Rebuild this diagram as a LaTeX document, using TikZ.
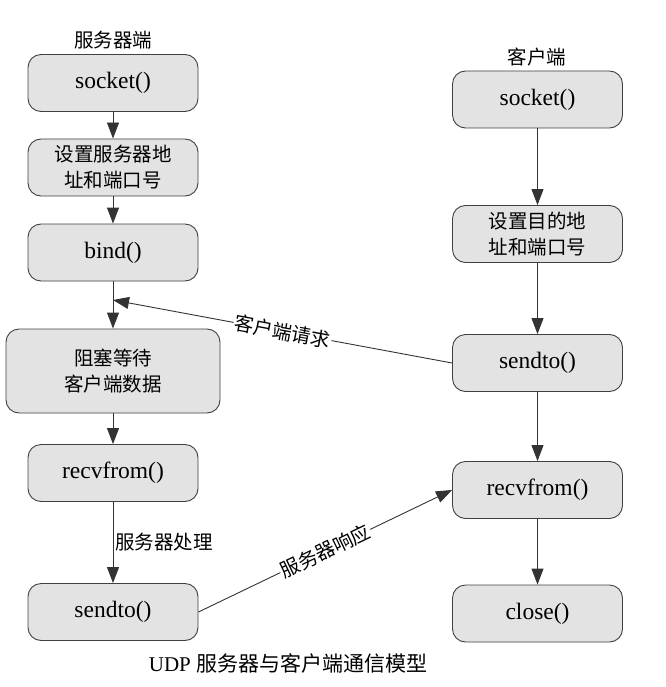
\documentclass[tikz,border=0pt]{standalone}
\usepackage{fontspec}
\setmainfont{Liberation Serif}
\newfontfamily\cjk{Noto Sans CJK SC}
\usetikzlibrary{arrows.meta}

\begin{document}
\begin{tikzpicture}[x=1pt, y=-1pt,
        box/.style={draw=black!75, fill=black!11, line width=0.9pt, rounded corners=13pt,
                    minimum width=170pt, minimum height=57pt, align=center,
                    font=\fontsize{23.5}{27}\selectfont},
        zh/.style={font=\cjk\fontsize{19.5}{26}\selectfont},
        flow/.style={draw=black!80, line width=0.9pt, -{Triangle[length=16pt,width=12pt]}}]
                \useasboundingbox (0,0) rectangle (665,687);

                % server side
                \node[zh] (srvtitle) at (113,40) {服务器端};
                \node[box] (srvsocket) at (113,83) {socket()};
                \node[box, zh] (srvaddr) at (113,167.5) {设置服务器地\\址和端口号};
                \node[box] (bind) at (113,252.5) {bind()};
                \node[box, zh, minimum width=214pt, minimum height=84pt] (wait) at (113,371) {阻塞等待\\客户端数据};
                \node[box] (srvrecv) at (113,473) {recvfrom()};
                \node[box] (srvsend) at (113,612) {sendto()};

                % client side
                \node[zh] (clititle) at (537,57) {客户端};
                \node[box] (clisocket) at (537.5,99.5) {socket()};
                \node[box, zh] (cliaddr) at (537.5,234) {设置目的地\\址和端口号};
                \node[box] (clisend) at (537.5,363) {sendto()};
                \node[box] (clirecv) at (537.5,490) {recvfrom()};
                \node[box] (cliclose) at (537.5,613.5) {close()};

                \node[font=\fontsize{21}{24}\selectfont] (caption) at (288,663) {UDP {\cjk 服务器与客户端通信模型}};

                \draw[flow] (srvsocket) -- (srvaddr);
                \draw[flow] (srvaddr) -- (bind);
                \draw[flow] (bind) -- (wait);
                \draw[flow] (wait) -- (srvrecv);
                \draw[flow] (srvrecv) -- node[zh, right, inner sep=2pt] {服务器处理} (srvsend);

                \draw[flow] (clisocket) -- (cliaddr);
                \draw[flow] (cliaddr) -- (clisend);
                \draw[flow] (clisend) -- (clirecv);
                \draw[flow] (clirecv) -- (cliclose);

                \coordinate (reqend) at (113,300);
                \draw[flow] (clisend.west) -- node[zh, sloped, fill=white, inner sep=1pt] {客户端请求} (reqend);
                \draw[flow] (srvsend.east) -- node[zh, sloped, fill=white, inner sep=1pt] {服务器响应} (clirecv.west);
\end{tikzpicture}
\end{document}
